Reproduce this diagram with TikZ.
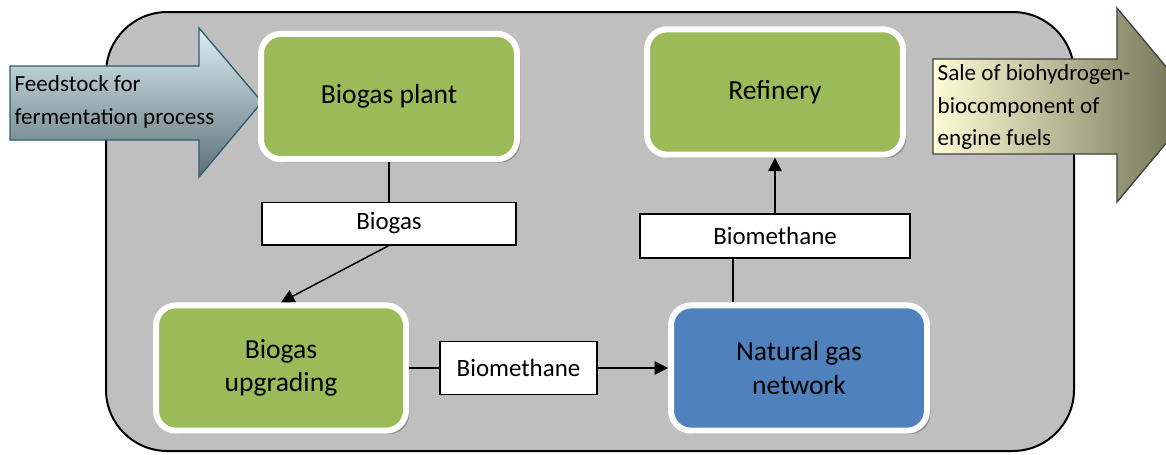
\documentclass[tikz,border=0pt]{standalone}
\usepackage{fontspec}
\setmainfont{Carlito}
\usetikzlibrary{arrows.meta, shadows}
\definecolor{bggray}{HTML}{BFBFBF}
\definecolor{stagegreen}{HTML}{9BBB59}
\definecolor{stageblue}{HTML}{4F81BD}
\definecolor{feedtop}{HTML}{DDEFF5}
\definecolor{feedbot}{HTML}{5B7075}
\definecolor{feededge}{HTML}{2E5E6B}
\definecolor{saleleft}{HTML}{FFFDD6}
\definecolor{saleright}{HTML}{6A6A4E}

\begin{document}
\begin{tikzpicture}[x=0.75pt, y=-0.75pt, >={Triangle[length=10pt, width=10pt]},
			line width=1.1pt,
			stage/.style={rectangle, rounded corners=15pt, draw=white, line width=4.5pt,
				fill=stagegreen, minimum width=192pt, minimum height=94pt, align=center,
				font=\fontsize{20.7}{25}\selectfont,
				drop shadow={shadow xshift=2.5pt, shadow yshift=-2.5pt, fill=black, opacity=0.25}},
			flow/.style={rectangle, draw, line width=1pt, fill=white, inner sep=0pt,
				font=\fontsize{18.7}{22}\selectfont},
			bigtext/.style={anchor=west, align=left, inner sep=0pt,
				font=\fontsize{17.3}{24.3}\selectfont}]
			
			\useasboundingbox (0,0) rectangle (1166,454);
			
			% Sfondo grigio
			\draw[fill=bggray, line width=1.5pt, rounded corners=46pt] (106,12) rectangle (1074,451);
			
			% --- Frecce grandi ---
			\shadedraw[top color=feedtop, bottom color=feedbot, draw=feededge, line width=1pt]
				(10,66) -- (199,66) -- (199,28) -- (262,102) -- (199,177) -- (199,140) -- (10,140) -- cycle;
			\node[bigtext] (feed) at (14,102) {Feedstock for\\fermentation process};
			
			\shadedraw[left color=saleleft, right color=saleright, draw=black!75, line width=1pt]
				(933,59) -- (1117,59) -- (1117,8) -- (1198,105) -- (1117,202) -- (1117,154) -- (933,154) -- cycle;
			\node[bigtext] (sale) at (937,107) {Sale of biohydrogen-\\biocomponent of\\engine fuels};
			
			% --- Impianti ---
			\node[stage] (plant) at (389,96.5) {Biogas plant};
			\node[stage] (refinery) at (775,92) {Refinery};
			\node[stage, minimum width=187.5pt] (upgrading) at (281,368) {Biogas\\upgrading};
			\node[stage, fill=stageblue] (natgas) at (799,368) {Natural gas\\network};
			
			% --- Flussi ---
			\node[flow, minimum width=190.5pt, minimum height=32pt] (biogas) at (389,223.5) {Biogas};
			\node[flow, minimum width=117.75pt, minimum height=39.75pt] (biomethane1) at (518.5,368) {Biomethane};
			\node[flow, minimum width=202.5pt, minimum height=33pt] (biomethane2) at (775,236) {Biomethane};
			
			% Collegamenti
			\draw (plant) -- (biogas);
			\draw[->] (biogas.south) -- (upgrading.north);
			\draw (upgrading) -- (biomethane1);
			\draw[->] (biomethane1) -- (natgas);
			\draw ([xshift=-49.5pt]natgas.north) -- ([xshift=-49.5pt]natgas.north |- biomethane2.south);
			\draw[->] (biomethane2) -- (refinery);
			
		\end{tikzpicture}
\end{document}
